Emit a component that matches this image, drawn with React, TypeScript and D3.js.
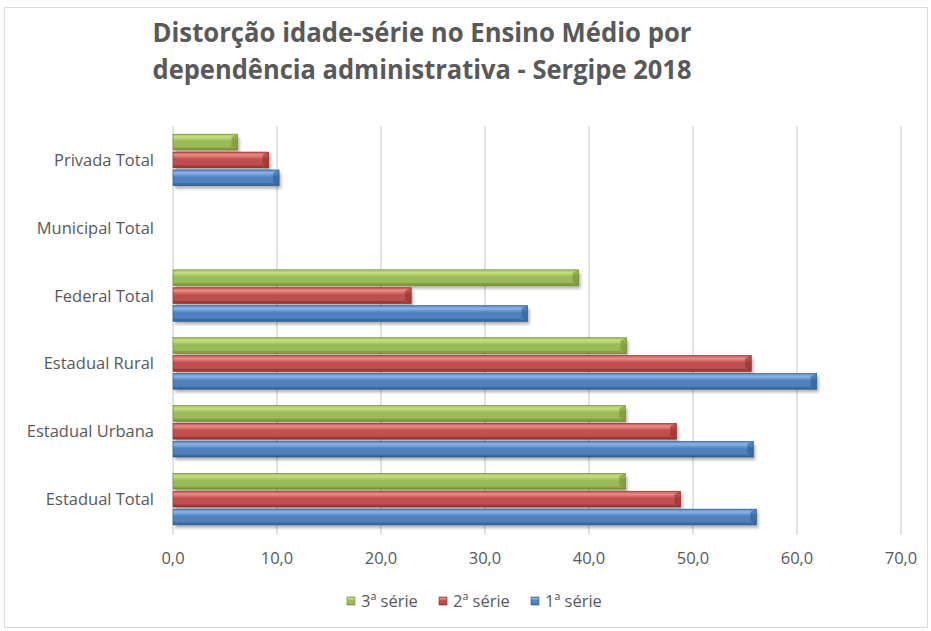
import React from 'react';
import * as d3 from 'd3';

const categories = ['Privada Total', 'Municipal Total', 'Federal Total', 'Estadual Rural', 'Estadual Urbana', 'Estadual Total'];
const seriesNames = ['3ª série', '2ª série', '1ª série'];
const serie3 = [6.2, 0, 39.0, 43.6, 43.5, 43.5];
const serie2 = [9.2, 0, 22.9, 55.6, 48.4, 48.8];
const serie1 = [10.2, 0, 34.1, 61.9, 55.8, 56.1];
const xTicks = [0, 10, 20, 30, 40, 50, 60, 70];

const palette = [
  { light: '#c6e07f', mid: '#9bbb59', dark: '#6f8a30', id: 'g' },
  { light: '#ec8c8a', mid: '#c0504d', dark: '#8c2a27', id: 'r' },
  { light: '#8fb4e6', mid: '#4f81bd', dark: '#2c5a92', id: 'b' },
];

const W = 931;
const H = 631;
const font = "'Open Sans', 'Liberation Sans', sans-serif";
const textColor = '#595959';

export default function App() {
  const x = d3.scaleLinear().domain([0, 70]).range([173, 901]);
  const y = d3.scaleBand<string>().domain(categories).range([126, 533]).paddingInner(0.24).paddingOuter(0.12);
  const ySub = d3.scaleBand<number>().domain([0, 1, 2]).range([0, y.bandwidth()]).paddingInner(0.12);
  const series = [serie3, serie2, serie1];
  const fmt = (v: number) => d3.format('.1f')(v).replace('.', ',');

  return (
    <svg width={W} height={H} style={{ position: 'absolute', left: 0, top: 0, background: '#fff' }}>
      <defs>
        {palette.map((p) => (
          <linearGradient key={p.id} id={`grad-${p.id}`} x1="0" y1="0" x2="0" y2="1">
            <stop offset="0%" stopColor={p.mid} />
            <stop offset="18%" stopColor={p.light} />
            <stop offset="45%" stopColor={p.mid} />
            <stop offset="85%" stopColor={p.mid} />
            <stop offset="100%" stopColor={p.dark} />
          </linearGradient>
        ))}
        <filter id="shadow" x="-5%" y="-30%" width="110%" height="180%">
          <feGaussianBlur stdDeviation="1.5" />
        </filter>
      </defs>
      <rect x={4.5} y={7.5} width={923} height={620} fill="#fff" stroke="#d9d9d9" />

      <text x={422} y={42} textAnchor="middle" fontFamily={font} fontWeight="bold" fontSize={26} fill={textColor} textLength={539} lengthAdjust="spacingAndGlyphs">
        Distorção idade-série no Ensino Médio por
      </text>
      <text x={422} y={79} textAnchor="middle" fontFamily={font} fontWeight="bold" fontSize={26} fill={textColor} textLength={539} lengthAdjust="spacingAndGlyphs">
        dependência administrativa - Sergipe 2018
      </text>

      {xTicks.map((t) => (
        <g key={t}>
          <line x1={x(t)} x2={x(t)} y1={126} y2={535} stroke="#d9d9d9" strokeWidth={1.5} />
          <text x={x(t)} y={564} textAnchor="middle" fontFamily={font} fontSize={16.5} fill={textColor}>
            {fmt(t)}
          </text>
        </g>
      ))}

      {categories.map((c, ci) => (
        <g key={c}>
          <text x={154} y={(y(c) as number) + y.bandwidth() / 2 + 6} textAnchor="end" fontFamily={font} fontSize={16.5} fill={textColor}>
            {c}
          </text>
          {series.map((s, si) => {
            const v = s[ci];
            const x0 = x(0);
            const x1 = x(v);
            const y0 = (y(c) as number) + (ySub(si) as number);
            const h = ySub.bandwidth();
            const w = x1 - x0;
            if (w <= 0) return null;
            const p = palette[si];
            const bev = Math.min(6, w);
            return (
              <g key={si}>
                <rect x={x0 + 2} y={y0 + 3} width={w} height={h} fill="#000" opacity={0.3} filter="url(#shadow)" />
                <rect x={x0} y={y0} width={w} height={h} fill={`url(#grad-${p.id})`} stroke={p.dark} strokeWidth={0.6} />
                <polygon
                  points={`${x1 - bev},${y0 + 3} ${x1},${y0} ${x1},${y0 + h} ${x1 - bev},${y0 + h - 3}`}
                  fill={p.dark}
                  opacity={0.55}
                />
                <line x1={x0} x2={x1 - bev} y1={y0 + h - 2} y2={y0 + h - 2} stroke={p.dark} strokeOpacity={0.5} />
              </g>
            );
          })}
        </g>
      ))}

      {seriesNames.map((n, i) => {
        const lx = [347, 439, 531][i];
        const p = palette[i];
        return (
          <g key={n}>
            <rect x={lx} y={597} width={8} height={8} fill={`url(#grad-${p.id})`} stroke={p.dark} strokeWidth={0.6} />
            <text x={lx + 14} y={607} fontFamily={font} fontSize={16.5} fill={textColor}>
              {n}
            </text>
          </g>
        );
      })}
    </svg>
  );
}
